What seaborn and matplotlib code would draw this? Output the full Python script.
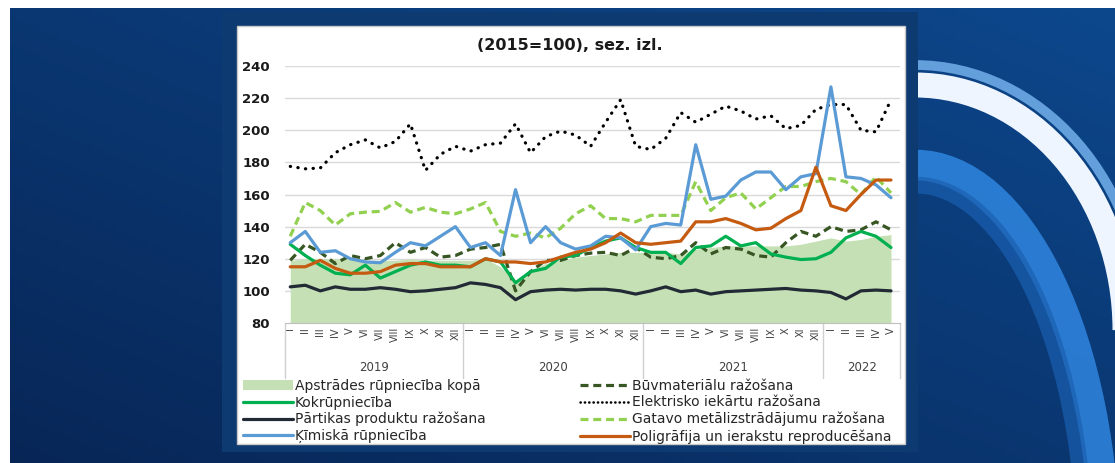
import matplotlib
matplotlib.use("Agg")
import matplotlib.pyplot as plt
import numpy as np
import pandas as pd
import seaborn as sns
from matplotlib.patches import Rectangle, Arc, Patch
from matplotlib.lines import Line2D

# month labels 2019-I .. 2022-V
roman = ["I", "II", "III", "IV", "V", "VI", "VII", "VIII", "IX", "X", "XI", "XII"]
month_labels = roman * 3 + roman[:5]
years = ["2019", "2020", "2021", "2022"]

apstrades = [119, 120, 120, 120, 120, 119, 119, 119, 120, 119, 119, 119,
             119, 120, 115, 106, 113, 117, 119, 121, 122, 123, 124, 124,
             124, 124, 123, 126, 127, 128, 128, 128, 128, 128, 129, 131,
             133, 131, 132, 134, 135]
buvmat = [119, 129, 124, 117, 122, 120, 122, 130, 124, 127, 121, 122,
          126, 127, 129, 100, 112, 119, 119, 122, 123.5, 124, 122, 127,
          121, 120, 122, 130, 123, 127, 126, 122, 121, 130, 137, 134,
          140, 137, 138, 143, 138]
kokr = [129, 122, 116, 111, 110, 116, 108, 112, 116, 118, 116, 116,
        115, 120, 118, 105, 112, 114, 121, 122, 127, 131, 133, 127,
        124, 124, 117, 127, 128, 134, 128, 130, 123, 121, 119.5, 120,
        124, 133, 137, 134, 127]
elektr = [177.5, 176, 176.5, 186, 191, 194, 189, 193, 204, 175, 185, 190,
          187, 191, 192, 204, 186, 196, 199.5, 197, 190, 205, 219, 190,
          188, 195, 211, 205, 210, 215, 212, 207, 209, 201, 203, 213,
          216, 216, 200, 199, 219]
partikas = [102.5, 103.5, 100, 102.5, 101, 101, 102, 101, 99.5, 100, 101, 102,
            105, 104, 102, 94.5, 99.5, 100.5, 101, 100.5, 101, 101, 100, 98,
            100, 102.5, 99.5, 100.5, 98, 99.5, 100, 100.5, 101, 101.5, 100.5, 100,
            99, 95, 100, 100.5, 100]
gatavo = [134, 155, 150, 141, 148, 149, 149.5, 155, 149, 152, 149, 148,
          151, 155, 137, 134, 136, 133, 139, 148, 153, 145, 145, 143,
          147, 147, 147, 168, 150, 158, 161, 151, 158, 165, 165, 168,
          170, 168, 160, 171, 161]
kimiska = [130, 137, 124, 125, 120, 118, 117.5, 124, 130, 128, 134, 140,
           127, 130, 122, 163, 130, 140, 130, 126, 128, 134, 133, 125.5,
           140, 142, 141, 191, 157, 159, 169, 174, 174, 163, 171, 173,
           227, 171, 170, 166, 158]
poligr = [115, 115, 119, 114, 111, 111, 112, 116, 117, 117, 115, 115,
          115, 120, 118, 118, 117, 118, 121, 124, 126, 130, 136, 130,
          129, 130, 131, 143, 143, 145, 142, 138, 139, 145, 150, 177,
          153, 150, 160, 169, 169]

df = pd.DataFrame({
    "t": np.arange(len(month_labels)),
    "apstrades": apstrades, "buvmat": buvmat, "kokr": kokr, "elektr": elektr,
    "partikas": partikas, "gatavo": gatavo, "kimiska": kimiska, "poligr": poligr,
})

sns.set_style("white")
plt.rcParams["font.family"] = ["DejaVu Sans"]

W, H = 1115, 463
fig = plt.figure(figsize=(W / 100, H / 100), dpi=100)
fig.patch.set_facecolor("white")

# slide background
bg = fig.add_axes([0, 0, 1, 1])
bg.set_xlim(0, W)
bg.set_ylim(H, 0)
bg.axis("off")
gx = np.linspace(0, 1, 200)
gy = np.linspace(0, 1, 100)[:, None]
c0 = np.array([0.03, 0.15, 0.34])
c1 = np.array([0.05, 0.28, 0.55])
mix = (0.5 * gx[None, :] + 0.5 * (1 - gy)) * np.ones((100, 200))
img = c0[None, None, :] * (1 - mix[..., None]) + c1[None, None, :] * mix[..., None]
bg.imshow(img, extent=[10, W, H, 8], aspect="auto", zorder=0)
# swooshes on the right
bg.add_patch(Arc((915, 560), 380, 790, theta1=270, theta2=360,
                 color="#2f86e0", lw=22, alpha=0.85, zorder=1))
bg.add_patch(Arc((915, 560), 340, 750, theta1=270, theta2=360,
                 color="#1a5fb0", lw=12, alpha=0.7, zorder=1))
bg.add_patch(Arc((915, 330), 420, 490, theta1=270, theta2=360,
                 color="#eef5ff", lw=18, zorder=1))
bg.add_patch(Arc((915, 330), 460, 530, theta1=270, theta2=360,
                 color="#7ab8f2", lw=7, alpha=0.8, zorder=1))
# frame and white panel
bg.add_patch(Rectangle((222, 12), 696, 440, facecolor="#0e3a72",
                       edgecolor="none", zorder=2))
bg.add_patch(Rectangle((237, 26), 668, 418, facecolor="white",
                       edgecolor="#c8c8c8", lw=1, zorder=3))

# chart axes
ax = fig.add_axes([285 / W, 1 - 323 / H, (900 - 285) / W, (323 - 66) / H])
ax.set_facecolor("none")

ax.fill_between(df["t"], 80, df["apstrades"], color="#c5e0b4", lw=0, zorder=1)

lw = 2.3
styles = [
    ("buvmat", "#375623", (0, (2.5, 1.5)), "butt"),
    ("kokr", "#00b050", "-", "round"),
    ("elektr", "#000000", (0, (0.1, 2.3)), "round"),
    ("partikas", "#222a35", "-", "round"),
    ("gatavo", "#92d050", (0, (2.5, 1.5)), "butt"),
    ("kimiska", "#5b9bd5", "-", "round"),
    ("poligr", "#c55a11", "-", "round"),
]
for col, color, ls, cap in styles:
    sns.lineplot(data=df, x="t", y=col, ax=ax, color=color, lw=lw,
                 linestyle=ls, dash_capstyle=cap, solid_capstyle=cap,
                 solid_joinstyle="round", zorder=3)

ax.set_xlim(-0.35, 40.6)
ax.set_ylim(80, 240)
ax.set_yticks(range(80, 241, 20))
ax.set_yticklabels([str(v) for v in range(80, 241, 20)],
                   fontsize=9.5, fontweight="bold", color="#1a1a1a")
ax.tick_params(axis="y", length=0, pad=11)
for v in range(100, 241, 20):
    ax.axhline(v, color="#d9d9d9", lw=1, zorder=0)

ax.set_xticks(df["t"])
ax.set_xticklabels(month_labels, rotation=90, fontsize=7, color="#404040")
ax.tick_params(axis="x", length=0, pad=3)
ax.set_xlabel("")
ax.set_ylabel("")
for s in ["top", "right", "left"]:
    ax.spines[s].set_visible(False)
ax.spines["bottom"].set_color("#bfbfbf")

# year grouping
trans = ax.get_xaxis_transform()
for xb in [-0.35, 11.5, 23.5, 35.5, 40.6]:
    ax.plot([xb, xb], [0, -0.215], color="#d0d0d0", lw=1,
            transform=trans, clip_on=False)
for yr, xc in zip(years, [5.6, 17.5, 29.5, 38.05]):
    ax.text(xc, -0.175, yr, transform=trans, ha="center", va="center",
            fontsize=8.5, color="#404040")

fig.text(570 / W, 1 - 45 / H, "(2015=100), sez. izl.", ha="center",
         va="center", fontsize=11.5, fontweight="bold", color="#1a1a1a")

handles = [
    Patch(facecolor="#c5e0b4", edgecolor="none"),
    Line2D([], [], color="#00b050", lw=lw),
    Line2D([], [], color="#222a35", lw=lw),
    Line2D([], [], color="#5b9bd5", lw=lw),
    Line2D([], [], color="#375623", lw=lw, linestyle=(0, (2.5, 1.5))),
    Line2D([], [], color="#000000", lw=lw * 0.8, linestyle=(0, (0.1, 1.6)),
           dash_capstyle="round"),
    Line2D([], [], color="#92d050", lw=lw, linestyle=(0, (2.5, 1.5))),
    Line2D([], [], color="#c55a11", lw=lw),
]
labels = [
    "Apstrādes rūpniecība kopā", "Kokrūpniecība", "Pārtikas produktu ražošana",
    "Ķīmiskā rūpniecība", "Būvmateriālu ražošana", "Elektrisko iekārtu ražošana",
    "Gatavo metālizstrādājumu ražošana", "Poligrāfija un ierakstu reproducēšana",
]
fig.legend(handles, labels, ncol=2, loc="upper left",
           bbox_to_anchor=(243 / W, 1 - 379 / H), frameon=False, fontsize=10,
           handlelength=3.6, handletextpad=0.15, labelspacing=0.18,
           columnspacing=6.8, borderaxespad=0, borderpad=0)

fig.savefig("out.png", dpi=100)
